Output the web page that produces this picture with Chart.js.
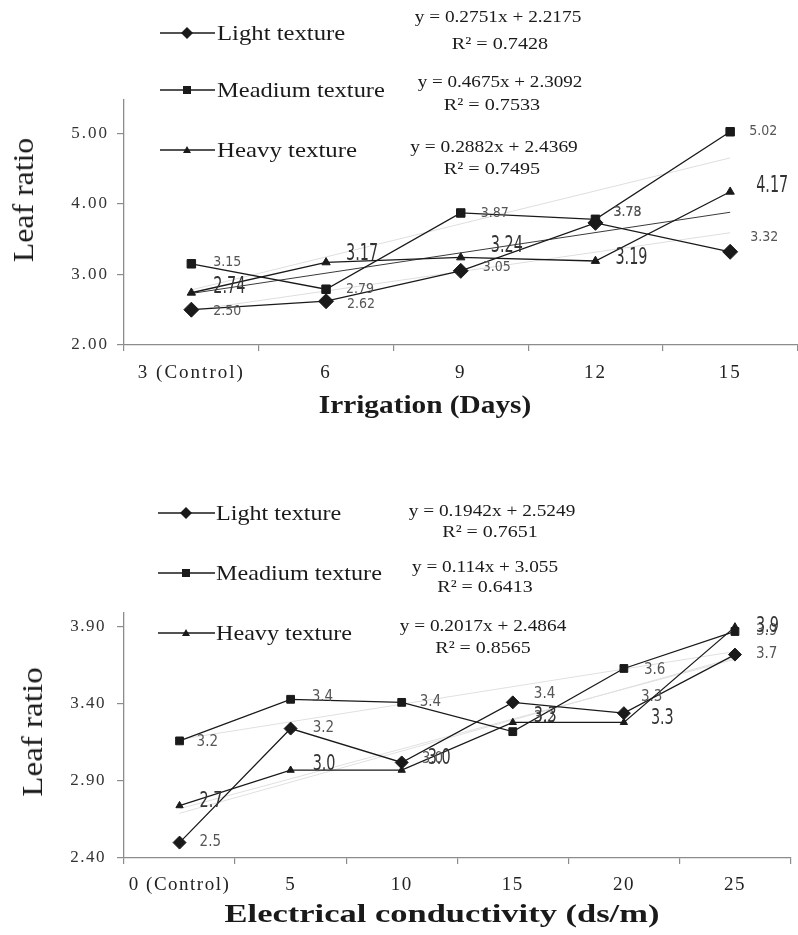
<!DOCTYPE html>
<html>
<head>
<meta charset="utf-8">
<script src="https://cdn.jsdelivr.net/npm/chart.js@4.4.1/dist/chart.umd.min.js"></script>
<style>
  html, body { margin: 0; padding: 0; background: #fff; }
  body {
    width: 798px; height: 935px; position: relative; overflow: hidden;
    font-family: "Liberation Serif", "Times New Roman", serif; color: #1a1a1a;
  }
  .box { position: absolute; left: 0; }
  #topBox { top: 0; width: 806px; height: 440px; }
  #botBox { top: 440px; width: 798px; height: 495px; }
  .txt { position: absolute; white-space: nowrap; line-height: 1; }
  .leg { position: absolute; }
</style>
</head>
<body>
<div id="topBox" class="box"><canvas id="topChart"></canvas></div>
<div id="botBox" class="box"><canvas id="botChart"></canvas></div>

<script>
// ─── DATA: irrigation chart ──────────────────────────────────────────────
const topCategories = ["3 (Control)", "6", "9", "12", "15"];
const topLight  = [2.50, 2.62, 3.05, 3.73, 3.32];
const topMedium = [3.15, 2.79, 3.87, 3.78, 5.02];
const topHeavy  = [2.74, 3.17, 3.24, 3.19, 4.17];
// trend lines, read at first and last category
const topTrendLight  = [2.49, null, null, null, 3.59];
const topTrendMedium = [2.78, null, null, null, 4.65];
const topTrendHeavy  = [2.73, null, null, null, 3.88];
const topYTicks = [2, 3, 4, 5];
const topEquations = ["y = 0.2751x + 2.2175", "y = 0.4675x + 2.3092", "y = 0.2882x + 2.4369"];
const topR2 = ["R² = 0.7428", "R² = 0.7533", "R² = 0.7495"];

// ─── DATA: electrical conductivity chart ─────────────────────────────────
const botCategories = ["0 (Control)", "5", "10", "15", "20", "25"];
const botLight  = [2.50, 3.24, 3.02, 3.41, 3.34, 3.72];
const botMedium = [3.16, 3.43, 3.41, 3.22, 3.63, 3.87];
const botHeavy  = [2.74, 2.97, 2.97, 3.28, 3.28, 3.90];
const botTrendLight  = [2.72, null, null, null, null, 3.69];
const botTrendMedium = [3.17, null, null, null, null, 3.74];
const botTrendHeavy  = [2.69, null, null, null, null, 3.70];
const botYTicks = [2.4, 2.9, 3.4, 3.9];
const botEquations = ["y = 0.1942x + 2.5249", "y = 0.114x + 3.055", "y = 0.2017x + 2.4864"];
const botR2 = ["R² = 0.7651", "R² = 0.6413", "R² = 0.8565"];

const seriesNames = ["Light texture", "Meadium texture", "Heavy texture"];

// ─── STYLE ───────────────────────────────────────────────────────────────
const SERIF = "'Liberation Serif', 'Times New Roman', serif";
const NARROW = "'Liberation Sans Narrow', 'Arial Narrow', 'DejaVu Sans Condensed', sans-serif";
const INK = "#1a1a1a";
const AXIS = "#8c8c8c";

// letter spacing for the canvas text (the original is a stretched scan)
const spacingPlugin = {
  id: "spacing",
  beforeDraw(chart, args, opts) { chart.ctx.letterSpacing = opts.value || "0px"; }
};

// value labels next to each point
const pointLabelsPlugin = {
  id: "pointLabels",
  afterDatasetsDraw(chart) {
    const ctx = chart.ctx;
    chart.data.datasets.forEach((ds, i) => {
      if (!ds.valueLabels) return;
      chart.getDatasetMeta(i).data.forEach((pt, j) => {
        const v = ds.data[j];
        if (v == null) return;
        ctx.save();
        ctx.letterSpacing = "0px";
        ctx.font = ds.labelFont;
        ctx.fillStyle = ds.labelColor;
        ctx.textAlign = "left";
        ctx.textBaseline = "middle";
        ctx.translate(pt.x + ds.labelDx[j], pt.y + ds.labelDy[j]);
        ctx.scale(1, ds.labelStretch);
        ctx.fillText(v.toFixed(ds.decimals), 0, 0);
        ctx.restore();
      });
    });
  }
};

function series(name, data, shape, radius, decimals, labelSize, stretch, color, dx, dy) {
  return {
    label: name, data,
    borderColor: INK, backgroundColor: INK, borderWidth: 1.3,
    pointStyle: shape, pointRadius: radius, pointBorderWidth: 1,
    tension: 0,
    valueLabels: true, decimals,
    labelFont: `${labelSize}px ${NARROW}`, labelColor: color, labelStretch: stretch,
    labelDx: dx, labelDy: dy
  };
}

function trend(data, color) {
  return {
    data, spanGaps: true, borderColor: color, borderWidth: 1,
    pointRadius: 0, tension: 0
  };
}

function buildOptions(cfg) {
  return {
    responsive: true,
    maintainAspectRatio: false,
    animation: false,
    layout: { padding: { top: cfg.top, left: 0, right: 0, bottom: 0 } },
    plugins: {
      legend: { display: false },
      tooltip: { enabled: false },
      spacing: { value: cfg.spacing }
    },
    scales: {
      x: {
        type: "category",
        offset: true,
        grid: { offset: true, drawOnChartArea: false, tickLength: 6, color: AXIS, lineWidth: 1.2 },
        border: { color: AXIS, width: 1.3 },
        ticks: { color: "#222", font: { family: SERIF, size: cfg.xFont }, padding: cfg.xPad, maxRotation: 0, autoSkip: false },
        afterFit(s) { s.height = cfg.xHeight; }
      },
      y: {
        min: cfg.yMin, max: cfg.yMax,
        afterBuildTicks(s) { s.ticks = cfg.yTicks.map(v => ({ value: v })); },
        grid: { drawOnChartArea: false, tickLength: 7, color: AXIS, lineWidth: 1.2 },
        border: { color: AXIS, width: 1.3 },
        ticks: { color: "#333", font: { family: SERIF, size: 17 }, padding: cfg.yPad, callback: v => v.toFixed(2) },
        afterFit(s) { s.width = 124; }
      }
    }
  };
}

// ─── TOP CHART ───────────────────────────────────────────────────────────
new Chart(document.getElementById("topChart"), {
  type: "line",
  data: {
    labels: topCategories,
    datasets: [
      series(seriesNames[0], topLight, "rectRot", 7.5, 2, 14, 1, "#555",
        [22, 21, 22, 18, 20], [2, 3, -4, -10, -14]),
      series(seriesNames[1], topMedium, "rect", 6, 2, 14, 1, "#555",
        [22, 20, 20, 18, 19], [-1, 0, 0, -7, 0]),
      series(seriesNames[2], topHeavy, "triangle", 4.8, 2, 16, 1.45, "#333",
        [22, 20, 30, 20, 26], [-6, -8, -11, -3, -6]),
      trend(topTrendLight, "#dedede"),
      trend(topTrendMedium, "#dedede"),
      trend(topTrendHeavy, "#3a3a3a")
    ]
  },
  options: buildOptions({
    top: 100, xHeight: 95, xFont: 19, xPad: 11, yPad: 8,
    yMin: 2, yMax: 5.47, yTicks: topYTicks, spacing: "2px"
  }),
  plugins: [spacingPlugin, pointLabelsPlugin]
});

// ─── BOTTOM CHART ────────────────────────────────────────────────────────
new Chart(document.getElementById("botChart"), {
  type: "line",
  data: {
    labels: botCategories,
    datasets: [
      series(seriesNames[0], botLight, "rectRot", 6.5, 1, 15, 1, "#555",
        [20, 22, 20, 21, 17, 21], [0, 0, -3, -8, -16, 0]),
      series(seriesNames[1], botMedium, "rect", 5.5, 1, 15, 1, "#555",
        [17, 21, 18, 21, 20, 21], [1, -2, 0, -14, 2, 0]),
      series(seriesNames[2], botHeavy, "triangle", 4.2, 1, 16, 1.3, "#333",
        [20, 22, 26, 21, 27, 21], [-4, -6, -12, -6, -4, 0]),
      trend(botTrendLight, "#e0e0e0"),
      trend(botTrendMedium, "#e0e0e0"),
      trend(botTrendHeavy, "#e0e0e0")
    ]
  },
  options: buildOptions({
    top: 173, xHeight: 77, xFont: 19, xPad: 10, yPad: 11,
    yMin: 2.4, yMax: 3.99, yTicks: botYTicks, spacing: "1.5px"
  }),
  plugins: [spacingPlugin, pointLabelsPlugin]
});

// ─── HTML TEXT: legends, equations, axis titles ──────────────────────────
function addText(str, x, y, size, targetW, o = {}) {
  const el = document.createElement("div");
  el.className = "txt";
  el.textContent = str;
  el.style.fontSize = size + "px";
  if (o.bold) el.style.fontWeight = "bold";
  el.style.left = x + "px";
  el.style.top = y + "px";
  document.body.appendChild(el);
  const s = targetW / el.offsetWidth;
  if (o.left) {
    el.style.transformOrigin = "left center";
    el.style.transform = `translateY(-50%) scaleX(${s})`;
  } else {
    el.style.transform = `translate(-50%, -50%)${o.rotate ? " rotate(-90deg)" : ""} scaleX(${s})`;
  }
}

function marker(shape, cx) {
  if (shape === "diamond") return `<polygon points="${cx},4 ${cx + 6},10 ${cx},16 ${cx - 6},10" fill="${INK}"/>`;
  if (shape === "square") return `<rect x="${cx - 4}" y="6" width="8" height="8" fill="${INK}"/>`;
  return `<polygon points="${cx},6 ${cx + 4},13 ${cx - 4},13" fill="${INK}"/>`;
}

function addLegendSymbol(x1, x2, y, shape, mx) {
  const w = x2 - x1;
  const el = document.createElement("div");
  el.className = "leg";
  el.style.left = x1 + "px";
  el.style.top = (y - 10) + "px";
  el.innerHTML = `<svg width="${w}" height="20"><line x1="0" y1="10" x2="${w}" y2="10" stroke="${INK}" stroke-width="1.3"/>${marker(shape, mx - x1)}</svg>`;
  document.body.appendChild(el);
}

const shapes = ["diamond", "square", "triangle"];

// top legend + equations
[33, 90, 150].forEach((y, i) => {
  addLegendSymbol(160, 215, y, shapes[i], 187);
  addText(seriesNames[i], 217, y, 22, [128, 168, 140][i], { left: true });
});
[[498, 16], [500, 81], [494, 146]].forEach(([x, y], i) => addText(topEquations[i], x, y, 17, [167, 165, 168][i]));
[[500, 43], [492, 104], [492, 168]].forEach(([x, y], i) => addText(topR2[i], x, y, 17, 96));

// bottom legend + equations
[513, 573, 633].forEach((y, i) => {
  addLegendSymbol(158, 215, y, shapes[i], 186);
  addText(seriesNames[i], 216, y, 22, [125, 166, 136][i], { left: true });
});
[[492, 510], [485, 566], [483, 625]].forEach(([x, y], i) => addText(botEquations[i], x, y, 17, [167, 146, 167][i]));
[[490, 531], [485, 586], [483, 647]].forEach(([x, y], i) => addText(botR2[i], x, y, 17, 95));

// axis titles
addText("Leaf ratio", 23, 200, 30, 124, { rotate: true });
addText("Leaf ratio", 32, 732, 30, 129, { rotate: true });
addText("Irrigation (Days)", 425, 405, 26, 212, { bold: true });
addText("Electrical conductivity (ds/m)", 442, 914, 26, 435, { bold: true });
</script>
</body>
</html>
